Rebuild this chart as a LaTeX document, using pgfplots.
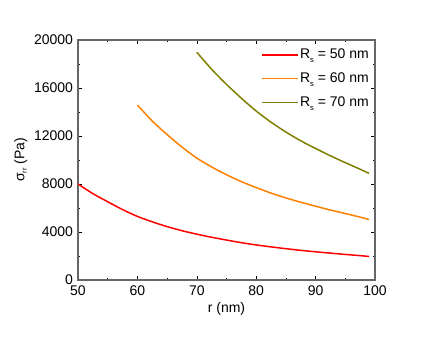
\documentclass[border=0pt]{standalone}
\usepackage{pgfplots}
\pgfplotsset{compat=1.18}
\usepackage{fontspec}
\setmainfont{Liberation Sans}
\setsansfont{Liberation Sans}
\definecolor{cred}{HTML}{FF0000}
\definecolor{corange}{HTML}{FF8000}
\definecolor{colive}{HTML}{808000}
\begin{document}
\begin{tikzpicture}
\useasboundingbox (-78pt,-57pt) rectangle (358pt,280pt);
\begin{axis}[
  at={(0pt,0pt)}, anchor=south west,
  scale only axis, width=297pt, height=240pt,
  xmin=50, xmax=100, ymin=0, ymax=20000,
  xtick={50,60,...,100}, ytick={0,4000,...,20000},
  minor xtick={55,65,...,95}, minor ytick={2000,6000,...,18000},
  tick align=inside,
  major tick length=4pt, minor tick length=2.5pt,
  axis line style={black!60, line width=1.2pt},
  every tick/.style={black, line width=0.6pt},
  scaled y ticks=false,
  /pgf/number format/assume math mode=true,
  /pgf/number format/fixed,
  /pgf/number format/1000 sep={},
  tick label style={font=\fontsize{14}{16}\selectfont},
  yticklabel style={xshift=-1.5pt},
  xticklabel style={yshift=-2pt},
  label style={font=\fontsize{14}{16}\selectfont},
  xlabel={r (nm)}, ylabel={σ\raisebox{-0.35ex}{\fontsize{7.5}{8}\selectfont rr} (Pa)},
  legend style={draw=none, fill=none, at={(0.99,0.975)}, anchor=north east,
    font=\fontsize{14}{16}\selectfont, row sep=8.5pt, inner sep=1pt},
  legend cell align=left,
  legend image code/.code={\draw[#1] plot coordinates {(0pt,0pt) (17pt,0pt) (35pt,0pt)};},
]
\addplot[cred, line width=1.5pt, smooth] coordinates {
 (50,8000) (52.5,7200) (55,6520) (57.5,5870) (60,5300) (62.5,4850) (65,4450) (67.5,4110)
 (70,3820) (72.5,3560) (75,3330) (77.5,3110) (80,2920) (82.5,2760) (85,2610)
 (87.5,2470) (90,2350) (92.5,2240) (95,2130) (97.5,2030) (99,1960)};
\addlegendentry{R\raisebox{-0.5ex}{\fontsize{7.5}{8}\selectfont s} = 50 nm}
\addplot[corange, line width=1.5pt, smooth] coordinates {
 (60,14580) (62.5,13250) (65,12120) (67.5,11080) (70,10160) (72.5,9420) (75,8770)
 (77.5,8200) (80,7700) (82.5,7240) (85,6840) (87.5,6480) (90,6150) (92.5,5830)
 (95,5540) (97.5,5240) (99,5040)};
\addlegendentry{R\raisebox{-0.5ex}{\fontsize{7.5}{8}\selectfont s} = 60 nm}
\addplot[colive, line width=1.5pt, smooth] coordinates {
 (70,18980) (72.5,17560) (75,16300) (77.5,15150) (80,14080) (82.5,13150) (85,12330)
 (87.5,11600) (90,10960) (92.5,10350) (95,9780) (97.5,9230) (99,8880)};
\addlegendentry{R\raisebox{-0.5ex}{\fontsize{7.5}{8}\selectfont s} = 70 nm}
\end{axis}
\end{tikzpicture}
\end{document}
